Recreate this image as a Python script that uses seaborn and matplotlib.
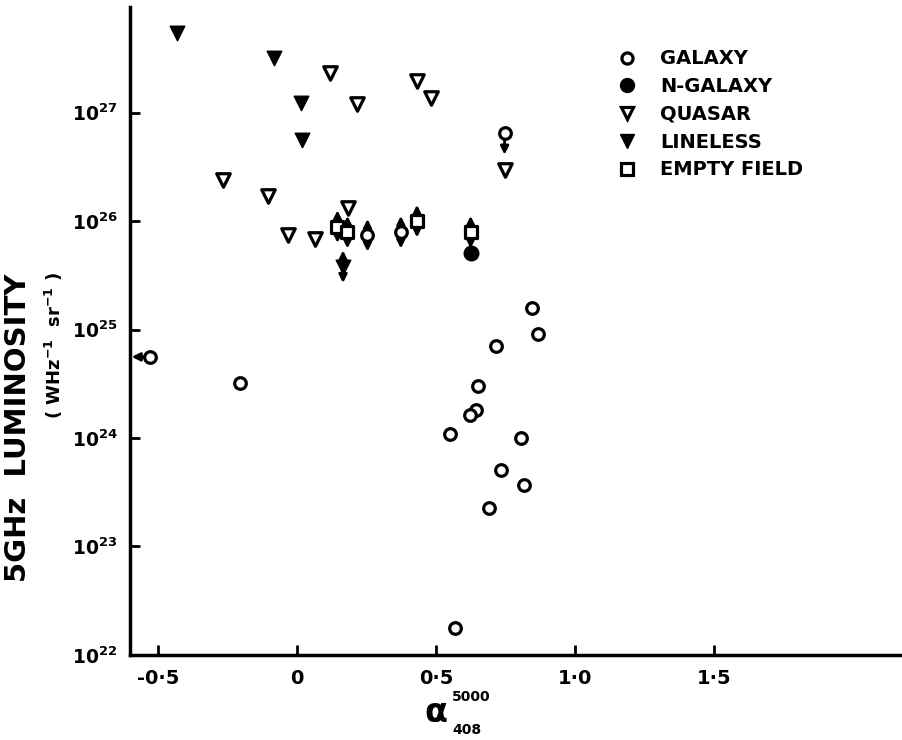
import numpy as np
import pandas as pd
import matplotlib
matplotlib.use('Agg')
import matplotlib.pyplot as plt
import seaborn as sns
from matplotlib.lines import Line2D

# spectral index alpha(408-5000) and 5 GHz luminosity (W Hz^-1 sr^-1)
galaxy_alpha = [-0.203, 0.844, 0.868, 0.717, 0.652, 0.643, 0.621, 0.552, 0.805, 0.734, 0.816, 0.692, 0.568]
galaxy_lum = [3.2e24, 1.58e25, 9.1e24, 7.1e24, 3.0e24, 1.82e24, 1.62e24, 1.1e24, 1.0e24, 5.1e23, 3.7e23, 2.24e23, 1.78e22]

# galaxies with uncertain luminosity (arrows both ways)
galaxy_range_alpha = [0.254, 0.374]
galaxy_range_lum = [7.4e25, 7.9e25]
# galaxy upper limit (arrow down)
galaxy_upper_alpha = [0.747]
galaxy_upper_lum = [6.5e26]
# galaxy alpha limit (arrow left)
galaxy_left_alpha = [-0.528]
galaxy_left_lum = [5.6e24]

ngalaxy_alpha = [0.626]
ngalaxy_lum = [5.1e25]

quasar_alpha = [-0.264, -0.105, -0.031, 0.065, 0.184, 0.119, 0.217, 0.433, 0.484, 0.747]
quasar_lum = [2.4e26, 1.7e26, 7.4e25, 6.9e25, 1.32e26, 2.34e27, 1.2e27, 1.95e27, 1.38e27, 2.95e26]

lineless_alpha = [-0.432, -0.081, 0.014, 0.017]
lineless_lum = [5.4e27, 3.16e27, 1.23e27, 5.6e26]
lineless_range_alpha = [0.166]
lineless_range_lum = [3.8e25]

empty_alpha = [0.146, 0.182, 0.432, 0.625]
empty_lum = [8.9e25, 7.9e25, 1.0e26, 7.9e25]

xticks = [-0.5, 0, 0.5, 1.0, 1.5]
xticklabels = ['-0·5', '0', '0·5', '1·0', '1·5']
yticks = [1e22, 1e23, 1e24, 1e25, 1e26, 1e27]
yticklabels = [r'$\mathbf{10^{22}}$', r'$\mathbf{10^{23}}$', r'$\mathbf{10^{24}}$',
               r'$\mathbf{10^{25}}$', r'$\mathbf{10^{26}}$', r'$\mathbf{10^{27}}$']

sns.set_style('ticks')
plt.rcParams['font.family'] = ['DejaVu Sans']
plt.rcParams['font.weight'] = 'bold'
plt.rcParams['text.color'] = 'black'
plt.rcParams['axes.edgecolor'] = 'black'
plt.rcParams['xtick.color'] = 'black'
plt.rcParams['ytick.color'] = 'black'

fig = plt.figure(figsize=(9.03, 7.4), dpi=100)
ax = fig.add_axes([0.144, 0.115, 0.856, 0.876])
ax.set_yscale('log')

open_kw = dict(facecolor='white', edgecolor='black', linewidth=2.3, zorder=3)
fill_kw = dict(color='black', edgecolor='black', linewidth=1, zorder=3)

galaxy = pd.DataFrame({'alpha': galaxy_alpha + galaxy_range_alpha + galaxy_upper_alpha + galaxy_left_alpha,
                       'lum': galaxy_lum + galaxy_range_lum + galaxy_upper_lum + galaxy_left_lum})
sns.scatterplot(data=galaxy, x='alpha', y='lum', marker='o', s=70, ax=ax, **open_kw)
sns.scatterplot(x=ngalaxy_alpha, y=ngalaxy_lum, marker='o', s=110, ax=ax, **fill_kw)
sns.scatterplot(x=quasar_alpha, y=quasar_lum, marker='v', s=95, ax=ax, **open_kw)
sns.scatterplot(x=lineless_alpha + lineless_range_alpha, y=lineless_lum + lineless_range_lum,
                marker='v', s=110, ax=ax, **fill_kw)
sns.scatterplot(x=empty_alpha, y=empty_lum, marker='s', s=75, ax=ax, **open_kw)

arrow = dict(arrowstyle='-|>', color='black', lw=2, mutation_scale=12, shrinkA=3, shrinkB=0)
for xs, ys in [(galaxy_range_alpha, galaxy_range_lum), (empty_alpha, empty_lum),
               (lineless_range_alpha, lineless_range_lum)]:
    for xv, yv in zip(xs, ys):
        ax.annotate('', xy=(xv, yv * 10 ** 0.15), xytext=(xv, yv), arrowprops=arrow, zorder=2)
        ax.annotate('', xy=(xv, yv / 10 ** 0.15), xytext=(xv, yv), arrowprops=arrow, zorder=2)
for xv, yv in zip(galaxy_upper_alpha, galaxy_upper_lum):
    ax.annotate('', xy=(xv, yv / 10 ** 0.2), xytext=(xv, yv), arrowprops=arrow, zorder=2)
for xv, yv in zip(galaxy_left_alpha, galaxy_left_lum):
    ax.annotate('', xy=(-0.594, yv), xytext=(xv, yv), arrowprops=arrow, zorder=2)

ax.set_xlim(-0.6, 2.18)
ax.set_ylim(1e22, 9.5e27)
ax.set_xticks(xticks)
ax.set_xticklabels(xticklabels, fontsize=14, fontweight='bold')
ax.set_yticks(yticks)
ax.set_yticklabels(yticklabels, fontsize=13.5)
ax.minorticks_off()
ax.tick_params(direction='in', length=7, width=2)
ax.tick_params(axis='x', pad=10)
ax.tick_params(axis='y', pad=9)
ax.set_xlabel('')
ax.set_ylabel('')
sns.despine(ax=ax)
for sp in ['left', 'bottom']:
    ax.spines[sp].set_linewidth(2.5)

fig.text(18 / 903, 1 - 428 / 740, '5GHz  LUMINOSITY', rotation=90, ha='center', va='center',
         fontsize=21, fontweight='bold')
fig.text(54 / 903, 1 - 345 / 740, r'( WHz$^{\mathbf{-1}}$  sr$^{\mathbf{-1}}$ )', rotation=90,
         ha='center', va='center', fontsize=13, fontweight='bold')
fig.text(436 / 903, 1 - 712 / 740, 'α', ha='center', va='center', fontsize=24, fontweight='bold')
fig.text(452 / 903, 1 - 697 / 740, '5000', ha='left', va='center', fontsize=10, fontweight='bold')
fig.text(452 / 903, 1 - 730 / 740, '408', ha='left', va='center', fontsize=10, fontweight='bold')

handles = [
    Line2D([], [], ls='none', marker='o', ms=8, mfc='white', mec='black', mew=2.3, label='GALAXY'),
    Line2D([], [], ls='none', marker='o', ms=10, mfc='black', mec='black', label='N-GALAXY'),
    Line2D([], [], ls='none', marker='v', ms=9, mfc='white', mec='black', mew=2.3, label='QUASAR'),
    Line2D([], [], ls='none', marker='v', ms=10, mfc='black', mec='black', label='LINELESS'),
    Line2D([], [], ls='none', marker='s', ms=8, mfc='white', mec='black', mew=2.3, label='EMPTY FIELD'),
]
leg = ax.legend(handles=handles, loc='upper left', bbox_to_anchor=(0.63, 0.934), frameon=False,
                borderpad=0, borderaxespad=0, handlelength=1.0, handletextpad=1.2,
                labelspacing=0.45, prop={'size': 14, 'weight': 'bold'})

fig.savefig('out.png', dpi=100)
